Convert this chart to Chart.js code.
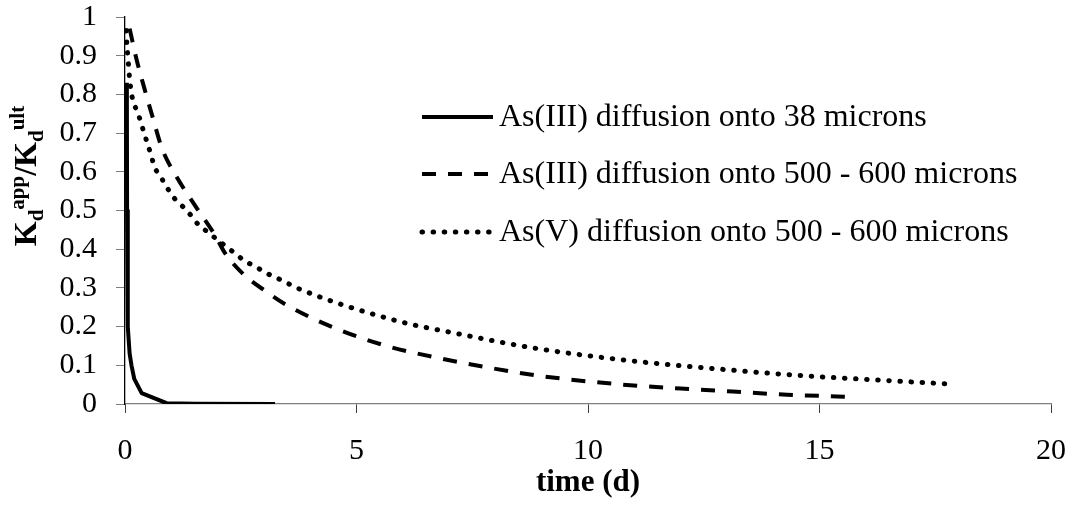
<!DOCTYPE html>
<html>
<head>
<meta charset="utf-8">
<script src="https://cdn.jsdelivr.net/npm/chart.js@4"></script>
<style>
  html, body { margin: 0; padding: 0; background: #fff; }
  #wrap { width: 1075px; height: 506px; }
</style>
</head>
<body>
<div id="wrap"><canvas id="kdChart" width="1075" height="506"></canvas></div>
<script>
// values: [time (d), Kd_app / Kd_ult]
const as3Fine = [
    [0.04, 0.83], [0.045, 0.5], [0.06, 0.2], [0.1, 0.13], [0.14, 0.1],
    [0.2, 0.065], [0.36, 0.028], [0.9, 0.002], [1.5, 0.0005], [3.24, 0]
];
const as3Coarse = [
    [0.1, 0.97], [0.25, 0.89], [0.42, 0.815], [0.6, 0.74], [0.8, 0.66],
    [1.1, 0.59], [1.5, 0.515], [1.95, 0.435], [2.16, 0.39], [2.57, 0.334],
    [3.02, 0.293], [3.5, 0.255], [4.54, 0.196], [5.65, 0.15], [6.8, 0.118],
    [7.95, 0.092], [9.0, 0.072], [10.76, 0.05], [12.0, 0.04], [13.13, 0.032],
    [14.3, 0.024], [15.0, 0.021], [15.65, 0.018]
];
const as5Coarse = [
    [0.03, 0.965], [0.04, 0.93], [0.06, 0.9], [0.08, 0.87], [0.1, 0.84],
    [0.13, 0.81], [0.18, 0.78], [0.27, 0.755], [0.35, 0.725], [0.42, 0.697],
    [0.5, 0.668], [0.65, 0.61], [0.79, 0.583], [0.92, 0.557], [1.07, 0.531],
    [1.25, 0.51], [1.42, 0.488], [1.58, 0.464], [1.78, 0.445], [1.97, 0.427],
    [2.17, 0.408], [2.38, 0.389], [2.59, 0.369], [2.81, 0.356], [3.02, 0.34],
    [3.24, 0.328], [3.48, 0.314], [3.71, 0.3], [5.87, 0.215], [7.13, 0.183],
    [8.86, 0.144], [10.9, 0.112], [12.67, 0.092], [14.43, 0.075], [17.75, 0.052]
];
const seriesNames = [
    'As(III) diffusion onto 38 microns',
    'As(III) diffusion onto 500 - 600 microns',
    'As(V) diffusion onto 500 - 600 microns'
];
const xTicks = [0, 5, 10, 15, 20];
const yTicks = [0, 0.1, 0.2, 0.3, 0.4, 0.5, 0.6, 0.7, 0.8, 0.9, 1];

const FONT = "'Liberation Serif', 'Times New Roman', serif";

function toPoints(arr) {
    return arr.map(p => ({ x: p[0], y: p[1] }));
}

// legend drawn inside the plot, like the original
const legendInside = {
    id: 'legendInside',
    afterDatasetsDraw(chart) {
        const ctx = chart.ctx;
        const rows = [117, 174, 232];
        ctx.save();
        chart.data.datasets.forEach((ds, i) => {
            const y = rows[i];
            ctx.beginPath();
            ctx.strokeStyle = ds.borderColor;
            ctx.lineWidth = ds.borderWidth;
            ctx.lineCap = ds.borderCapStyle || 'butt';
            ctx.setLineDash(ds.borderDash || []);
            ctx.moveTo(422, y);
            ctx.lineTo(493, y);
            ctx.stroke();
            ctx.setLineDash([]);
            ctx.fillStyle = '#000';
            ctx.font = '32px ' + FONT;
            ctx.textBaseline = 'middle';
            ctx.textAlign = 'left';
            ctx.fillText(seriesNames[i], 499, y + 1);
        });
        ctx.restore();
    }
};

// y axis title with sub/superscripts
const yTitle = {
    id: 'yTitle',
    afterDraw(chart) {
        const ctx = chart.ctx;
        const parts = [
            { t: 'K', s: 32, dy: 0 },
            { t: 'd', s: 21, dy: 7 },
            { t: 'app', s: 21, dy: -12 },
            { t: '/', s: 32, dy: 0 },
            { t: 'K', s: 32, dy: 0 },
            { t: 'd', s: 21, dy: 7 },
            { t: 'ult', s: 21, dy: -12 }
        ];
        ctx.save();
        let total = 0;
        parts.forEach(p => {
            ctx.font = 'bold ' + p.s + 'px ' + FONT;
            p.w = ctx.measureText(p.t).width;
            total += p.w;
        });
        ctx.translate(36, 176);
        ctx.rotate(-Math.PI / 2);
        ctx.fillStyle = '#000';
        ctx.textBaseline = 'alphabetic';
        ctx.textAlign = 'left';
        let x = -total / 2;
        parts.forEach(p => {
            ctx.font = 'bold ' + p.s + 'px ' + FONT;
            ctx.fillText(p.t, x, p.dy);
            x += p.w;
        });
        ctx.restore();
    }
};

const ctx = document.getElementById('kdChart').getContext('2d');
new Chart(ctx, {
    type: 'line',
    data: {
        datasets: [{
            label: seriesNames[0],
            data: toPoints(as3Fine),
            borderColor: '#000',
            borderWidth: 4,
            borderCapStyle: 'butt',
            borderJoinStyle: 'round',
            tension: 0
        }, {
            label: seriesNames[1],
            data: toPoints(as3Coarse),
            borderColor: '#000',
            borderWidth: 4,
            borderDash: [14, 12],
            borderCapStyle: 'butt',
            cubicInterpolationMode: 'monotone'
        }, {
            label: seriesNames[2],
            data: toPoints(as5Coarse),
            borderColor: '#000',
            borderWidth: 5,
            borderDash: [0.5, 10.6],
            borderCapStyle: 'round',
            cubicInterpolationMode: 'monotone'
        }]
    },
    options: {
        responsive: false,
        animation: false,
        events: [],
        layout: { padding: { top: 17, right: 24, left: 0, bottom: 0 } },
        elements: { point: { radius: 0 } },
        plugins: {
            legend: { display: false },
            tooltip: { enabled: false }
        },
        scales: {
            x: {
                type: 'linear',
                min: 0,
                max: 20,
                afterBuildTicks(axis) { axis.ticks = xTicks.map(v => ({ value: v })); },
                afterFit(axis) {
                    axis.height = 102;
                    // labels may hang past the plot edge, as in the original
                    axis.paddingLeft = 0;
                    axis.paddingRight = 0;
                },
                ticks: {
                    color: '#000',
                    padding: 20,
                    autoSkip: false,
                    font: { family: FONT, size: 30 },
                    maxRotation: 0
                },
                grid: { drawOnChartArea: false, drawTicks: true, tickLength: 9, color: '#404040' },
                border: { color: '#808080', width: 1.3 },
                title: {
                    display: true,
                    text: 'time (d)',
                    color: '#000',
                    font: { family: FONT, size: 31, weight: 'bold' },
                    padding: { top: 0, bottom: 4 }
                }
            },
            y: {
                type: 'linear',
                min: 0,
                max: 1,
                afterBuildTicks(axis) { axis.ticks = yTicks.map(v => ({ value: v })); },
                afterFit(axis) {
                    axis.width = 125;
                    axis.paddingTop = 0;
                    axis.paddingBottom = 0;
                },
                ticks: {
                    color: '#000',
                    padding: 19,
                    autoSkip: false,
                    font: { family: FONT, size: 30 },
                    callback: v => String(Math.round(v * 10) / 10)
                },
                grid: { drawOnChartArea: false, drawTicks: true, tickLength: 9, color: '#808080' },
                border: { color: '#000', width: 1.3 }
            }
        }
    },
    plugins: [legendInside, yTitle]
});
</script>
</body>
</html>
